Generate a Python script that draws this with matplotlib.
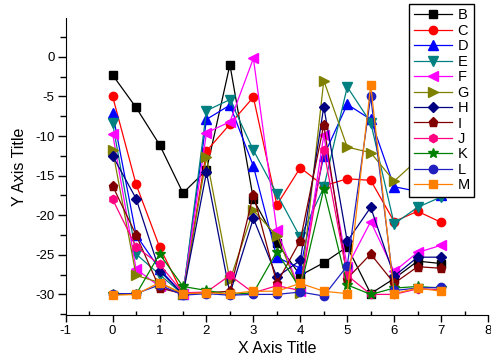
import matplotlib
matplotlib.use("Agg")
import matplotlib.pyplot as plt
from matplotlib.ticker import MultipleLocator, FormatStrFormatter

plt.rcParams['font.family'] = ['Liberation Sans', 'DejaVu Sans']
plt.rcParams['axes.unicode_minus'] = False

x = [0, 0.5, 1, 1.5, 2, 2.5, 3, 3.5, 4, 4.5, 5, 5.5, 6, 6.5, 7]

B = [-2.3, -6.4, -11.1, -17.2, -14.3, -1.0, -18.0, -23.5, -27.6, -26.0, -24.0, -29.9, -28.0, -25.8, -26.1]
C = [-5.0, -16.1, -24.0, -30.0, -11.9, -8.5, -5.1, -18.7, -14.0, -16.3, -15.4, -15.6, -20.8, -19.5, -20.9]
D = [-7.1, -22.5, -26.8, -30.0, -7.9, -6.1, -13.8, -25.3, -26.7, -12.5, -6.0, -7.9, -16.4, -17.0, -17.5]
E = [-8.4, -24.9, -27.5, -30.0, -6.8, -5.4, -11.8, -17.3, -22.8, -16.5, -3.8, -8.3, -21.1, -19.0, -17.7]
F = [-9.7, -26.8, -29.0, -30.0, -9.6, -8.2, -0.2, -21.9, -29.6, -9.9, -26.5, -20.8, -27.1, -24.7, -23.8]
G = [-11.8, -27.6, -28.5, -30.0, -12.7, -28.2, -19.4, -22.6, -29.8, -3.0, -11.4, -12.1, -15.7, -13.0, -11.5]
H = [-12.5, -17.9, -27.0, -30.0, -14.6, -29.9, -20.4, -27.8, -25.7, -6.3, -23.3, -19.0, -27.7, -25.3, -25.3]
I = [-16.3, -22.5, -29.2, -29.9, -29.8, -29.6, -17.4, -28.6, -23.2, -8.6, -28.0, -24.9, -28.6, -26.5, -26.7]
J = [-18.0, -24.0, -26.2, -29.8, -29.7, -27.6, -29.8, -28.9, -29.5, -11.8, -27.6, -30.0, -30.0, -29.3, -29.4]
K = [-30.0, -30.0, -24.9, -29.0, -29.5, -30.0, -29.8, -24.6, -29.3, -16.7, -28.8, -30.0, -29.2, -29.0, -29.2]
L = [-29.9, -29.9, -28.8, -30.1, -29.9, -30.1, -30.0, -30.0, -29.7, -30.2, -26.4, -5.0, -29.5, -29.2, -29.1]
M = [-30.1, -30.0, -28.5, -29.9, -29.8, -29.9, -29.6, -29.6, -28.6, -29.6, -29.9, -3.6, -29.9, -29.2, -29.6]

names = ['B', 'C', 'D', 'E', 'F', 'G', 'H', 'I', 'J', 'K', 'L', 'M']
series = [B, C, D, E, F, G, H, I, J, K, L, M]
colors = ['#000000', '#FF0000', '#0000FF', '#008080', '#FF00FF', '#808000',
          '#000080', '#800000', '#FF0080', '#008000', '#2020C0', '#FF8000']
markers = ['s', 'o', '^', 'v', '<', '>', 'D', 'p', 'h', '*', 'o', 's']
msizes = [5.5, 6, 6.5, 6.5, 6.5, 6.5, 5, 6.5, 6, 7.5, 6, 5.5]

fig = plt.figure(figsize=(4.91, 3.6), dpi=100)
ax = fig.add_axes([65.7 / 491, 1 - 315 / 360, (488 - 65.7) / 491, (315 - 18) / 360])

for name, ys, c, m, ms in zip(names, series, colors, markers, msizes):
    ax.plot(x, ys, color=c, marker=m, markersize=ms, linewidth=0.9,
            markeredgecolor=c, label=name)

ax.set_xlim(-1, 8)
ax.set_ylim(-32.6, 4.9)
ax.spines['top'].set_visible(False)
ax.spines['right'].set_visible(False)
ax.xaxis.set_major_locator(MultipleLocator(1))
ax.xaxis.set_minor_locator(MultipleLocator(0.5))
ax.yaxis.set_major_locator(MultipleLocator(5))
ax.yaxis.set_minor_locator(MultipleLocator(2.5))
ax.xaxis.set_major_formatter(FormatStrFormatter('%d'))
ax.yaxis.set_major_formatter(FormatStrFormatter('%d'))
ax.tick_params(axis='x', which='major', direction='out', length=5, width=1, labelsize=9.5, pad=2)
ax.tick_params(axis='x', which='minor', direction='in', length=3, width=1)
ax.tick_params(axis='y', which='major', direction='out', length=6, width=1, labelsize=9.5, pad=2)
ax.tick_params(axis='y', which='minor', direction='out', length=4, width=1)

ax.set_xlabel('X Axis Title', fontsize=11.5, labelpad=3)
ax.set_ylabel('Y Axis Title', fontsize=11.5, labelpad=6)

leg = ax.legend(loc='upper right', bbox_to_anchor=(474 / 491, 1 - 4 / 360),
                bbox_transform=fig.transFigure, fontsize=10.5, handlelength=2.6,
                handletextpad=0.4, labelspacing=0.1, borderpad=0.3,
                borderaxespad=0, fancybox=False, framealpha=1,
                edgecolor='black', markerscale=1.0)
leg.get_frame().set_linewidth(1)

fig.savefig('out.png', dpi=100)
